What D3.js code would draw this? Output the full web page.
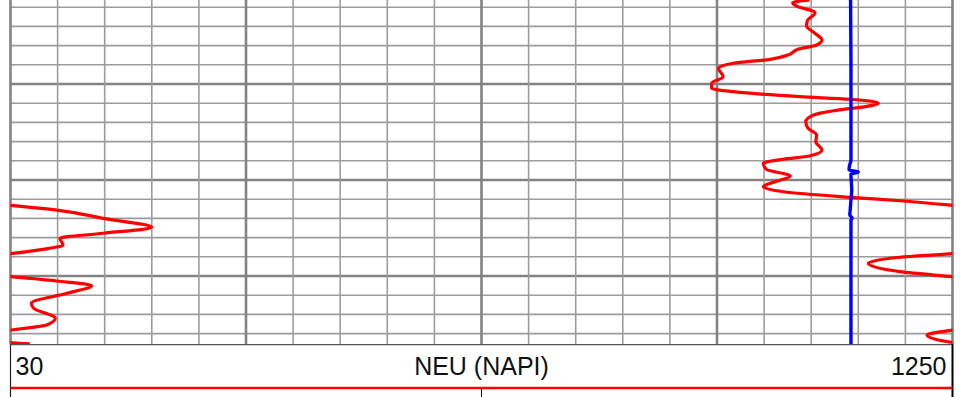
<!DOCTYPE html>
<html>
<head>
<meta charset="utf-8">
<script src="https://cdn.jsdelivr.net/npm/d3@7"></script>
<style>
  html, body { margin: 0; padding: 0; background: #fff; }
  svg { display: block; }
  text { font-family: "Liberation Sans", Arial, sans-serif; fill: #111; }
</style>
</head>
<body>
<svg id="chart" width="968" height="397"></svg>
<script>
// ---- data ----
const scaleMin = 30;
const scaleMax = 1250;
const curveTitle = "NEU (NAPI)";
const depthTop = 1500;
const depthBottom = 1537.1;
const xDivisions = 20;          // minor grid divisions across the track
const xMajorEvery = 5;
const depthMinorStep = 2;
const depthMajorStep = 10;

// red neutron curve (values above 1250 wrap back onto the track)
const neuDepth = [1501.25,1501.53,1501.88,1502.57,1503.41,1503.96,1504.72,1505.42,1505.94,1506.39,
  1506.98,1507.43,1507.84,1508.36,1509.24,1509.93,1510.45,1510.80,1511.32,1511.59,
  1512.01,1512.43,1512.64,1513.23,1513.93,1514.61,1515.31,1516.01,1516.88,1517.50,
  1517.84,1518.26,1518.89,1519.58,1520.18,1520.70,1521.22,1521.80,1522.16,1522.64,
  1523.13,1524.00,1524.93,1525.55,1526.07,1526.77,1527.22,1527.66,
  1528.05,1528.68,1529.55,1530.07,
  1530.52,1531.01,1531.80,1532.84,1533.36,1534.41,1535.10,1535.63,
  1536.15,1536.93,1537.08];
const neuValue = [1065,1043,1048,1072,1062,1061,1072,1081,1074,1050,
  1037,1014,966,947,953,938,938,966,1052,1117,
  1154,1130,1109,1070,1060,1063,1074,1073,1081,1065,
  1031,1005,1009,1040,1020,1005,1031,1117,1182,1250,
  1310,1370,1433,1370,1314,1318,1292,1250,
  1182,1141,1182,1250,
  1310,1355,1323,1277,1280,1308,1297,1250,
  1217,1250,1275];

// blue curve
const blueDepth = [1501.25,1507.5,1517.92,1518.54,1518.96,1519.17,1519.38,1521.04,1522.08,1523.13,1523.65,1523.96,1524.17,1537.08];
const blueValue = [1118,1118.5,1118.5,1116.5,1116,1128,1118.5,1119.5,1118.5,1117.5,1117,1120,1118.5,1118.5];

// ---- layout ----
const svg = d3.select("#chart");
const trackLeft = 10.5, trackRight = 952.5;
const pxPerUnit = 9.6;
const yScale = d3.scaleLinear().domain([depthTop, depthBottom]).range([-12, -12 + (depthBottom - depthTop) * pxPerUnit]);
const trackBottom = yScale(depthBottom);
const xScale = d3.scaleLinear().domain([scaleMin, scaleMax]).range([trackLeft, trackRight]);
const span = scaleMax - scaleMin;
const xWrap = d3.scaleLinear().domain([scaleMax, scaleMax + span]).range([trackLeft, trackRight]);

svg.append("defs").append("clipPath").attr("id", "trackClip")
  .append("rect").attr("x", trackLeft).attr("y", 0)
  .attr("width", trackRight - trackLeft).attr("height", trackBottom);

// grid
const gridG = svg.append("g");
const xTicks = d3.range(xDivisions + 1).map(i => scaleMin + i * span / xDivisions);
const yTicks = d3.range(depthTop, depthBottom, depthMinorStep);

gridG.selectAll("line.h").data(yTicks).join("line")
  .attr("x1", trackLeft).attr("x2", trackRight)
  .attr("y1", d => yScale(d)).attr("y2", d => yScale(d))
  .attr("stroke", d => (d % depthMajorStep === 0) ? "#838383" : "#9c9c9c")
  .attr("stroke-width", d => (d % depthMajorStep === 0) ? 2.6 : 1.6);

gridG.selectAll("line.v").data(xTicks).join("line")
  .attr("y1", 0).attr("y2", trackBottom)
  .attr("x1", d => xScale(d)).attr("x2", d => xScale(d))
  .attr("stroke", (d, i) => (i % xMajorEvery === 0) ? "#838383" : "#9c9c9c")
  .attr("stroke-width", (d, i) => (i % xMajorEvery === 0) ? 2.6 : 1.6);

// curves
const curvesG = svg.append("g").attr("clip-path", "url(#trackClip)");
const neu = neuDepth.map((d, i) => ({ depth: d, value: neuValue[i] }));
const blue = blueDepth.map((d, i) => ({ depth: d, value: blueValue[i] }));

const lineMain = d3.line().x(d => xScale(d.value)).y(d => yScale(d.depth)).curve(d3.curveMonotoneY);
const lineWrap = d3.line().x(d => xWrap(d.value)).y(d => yScale(d.depth)).curve(d3.curveMonotoneY);

curvesG.append("path").datum(neu).attr("d", lineMain)
  .attr("fill", "none").attr("stroke", "#ff0000").attr("stroke-width", 3.2).attr("stroke-linejoin", "round");
curvesG.append("path").datum(neu).attr("d", lineWrap)
  .attr("fill", "none").attr("stroke", "#ff0000").attr("stroke-width", 3.2).attr("stroke-linejoin", "round");
curvesG.append("path").datum(blue).attr("d", lineMain)
  .attr("fill", "none").attr("stroke", "#0000ff").attr("stroke-width", 3.4).attr("stroke-linejoin", "round");

// header
const headG = svg.append("g");
headG.append("line").attr("x1", trackLeft).attr("x2", trackRight)
  .attr("y1", trackBottom + 0.5).attr("y2", trackBottom + 0.5)
  .attr("stroke", "#555").attr("stroke-width", 1.2);
headG.append("line").attr("x1", trackLeft).attr("x2", trackLeft)
  .attr("y1", trackBottom).attr("y2", 397).attr("stroke", "#222").attr("stroke-width", 1.2);
headG.append("line").attr("x1", trackRight).attr("x2", trackRight)
  .attr("y1", trackBottom).attr("y2", 397).attr("stroke", "#000").attr("stroke-width", 2);
headG.append("line").attr("x1", trackLeft).attr("x2", trackRight)
  .attr("y1", 388).attr("y2", 388).attr("stroke", "#ff0000").attr("stroke-width", 2.4);
headG.append("line").attr("x1", xScale((scaleMin + scaleMax) / 2)).attr("x2", xScale((scaleMin + scaleMax) / 2))
  .attr("y1", 389).attr("y2", 397).attr("stroke", "#000").attr("stroke-width", 1);

headG.append("text").attr("x", xScale(scaleMin) + 5).attr("y", 375)
  .attr("font-size", 25).attr("text-anchor", "start").text(String(scaleMin));
headG.append("text").attr("x", xScale(scaleMax) - 6).attr("y", 375)
  .attr("font-size", 25).attr("text-anchor", "end").text(String(scaleMax));
headG.append("text").attr("x", xScale((scaleMin + scaleMax) / 2)).attr("y", 375)
  .attr("font-size", 25).attr("text-anchor", "middle").text(curveTitle);
</script>
</body>
</html>
